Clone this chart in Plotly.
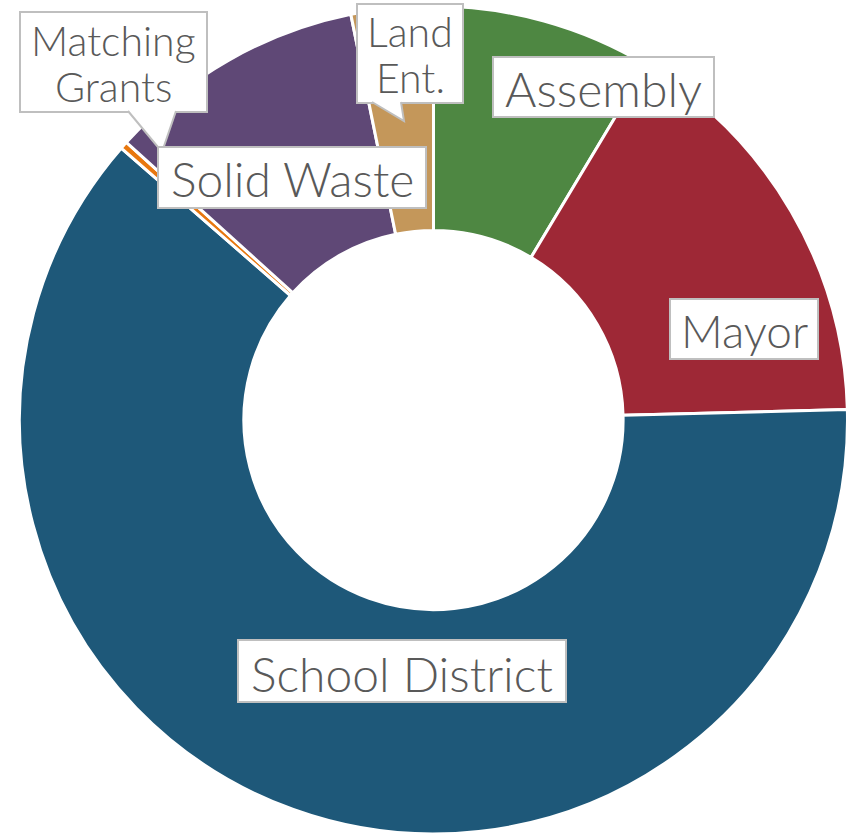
import plotly.graph_objects as go

categories = ["Assembly", "Mayor", "School District", "Matching Grants", "Solid Waste", "Land Ent."]
values = [8.6, 16.0, 61.8, 0.3, 10.1, 3.2]
colors = ["#4E8742", "#9E2836", "#1E5879", "#E8770F", "#5F4876", "#C4975A"]

W, H = 850, 836

fig = go.Figure(go.Pie(
    labels=categories, values=values, sort=False, direction="clockwise", rotation=0,
    hole=0.458, textinfo="none", hoverinfo="label+value",
    marker=dict(colors=colors, line=dict(color="white", width=3)),
    domain=dict(x=[19 / W, 848 / W], y=[2 / H, 830 / H]),
    showlegend=False,
))

def px(x):
    return x / W

def py(y):
    return 1 - y / H

BORDER = "#BFBFBF"
TEXT = "#595959"

# label boxes: (lines with their vertical centers, font size, box left, top, right, bottom, tail)
labels = [
    ([("Matching", 40), ("Grants", 86)], 41, (20, 12, 207, 112), [(128, 111), (162, 152), (176, 111)]),
    ([("Land", 32), ("Ent.", 78)], 41, (357, 4, 463, 103), [(372, 102), (404, 121), (401, 102)]),
    ([("Assembly", 88)], 48, (493, 57, 714, 117), None),
    ([("Solid Waste", 178)], 48, (158, 147, 426, 208), None),
    ([("Mayor", 330)], 46, (670, 299, 818, 359), None),
    ([("School District", 673)], 48, (238, 640, 566, 702), None),
]

for lines, size, (l, t, r, b), tail in labels:
    fig.add_shape(type="rect", xref="paper", yref="paper",
                  x0=px(l), x1=px(r), y0=py(b), y1=py(t),
                  fillcolor="white", line=dict(color=BORDER, width=2), layer="above")
    if tail:
        path = "M " + " L ".join(f"{px(x)},{py(y)}" for x, y in tail)
        fig.add_shape(type="path", path=path + " Z", xref="paper", yref="paper",
                      fillcolor="white", line=dict(width=0), layer="above")
        fig.add_shape(type="path", path=path, xref="paper", yref="paper",
                      line=dict(color=BORDER, width=2), layer="above")
    for text, yc in lines:
        fig.add_annotation(
            text=text, x=px((l + r) / 2), y=py(yc), xref="paper", yref="paper",
            xanchor="center", yanchor="middle", showarrow=False,
            font=dict(family="Lato", size=size, color=TEXT, weight=300),
        )

fig.update_layout(
    width=W, height=H, margin=dict(l=0, r=0, t=0, b=0),
    paper_bgcolor="white", plot_bgcolor="white",
)

fig.write_html("out.html")
